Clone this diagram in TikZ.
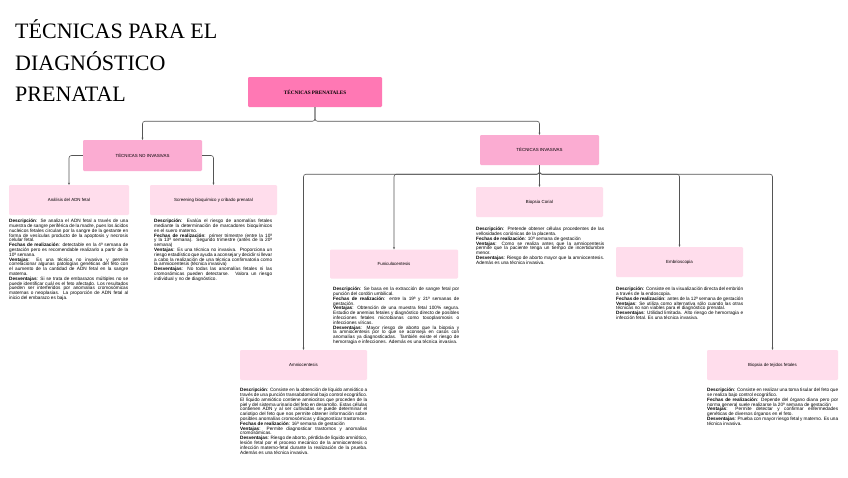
\documentclass[tikz,border=0pt]{standalone}
\usepackage{fontspec}
\setmainfont{Liberation Serif}
\setsansfont{Liberation Sans}
\usetikzlibrary{arrows.meta}
\definecolor{rosaFuerte}{HTML}{FF78B4}
\definecolor{rosaMedio}{HTML}{FBACD2}
\definecolor{rosaClaro}{HTML}{FFDDEC}
\definecolor{linea}{HTML}{555555}
\newcommand{\campo}[1]{\textbf{#1}:}
\newcommand{\singuion}{\hyphenpenalty=10000 \exhyphenpenalty=10000 \tolerance=9999 \emergencystretch=4pt\relax}
\begin{document}
\begin{tikzpicture}
    [x=1pt,y=-1pt,
    caja/.style={rectangle,rounded corners=1.2pt,inner sep=0pt,minimum height=30pt,
      font=\sffamily\fontsize{4.4}{5}\selectfont},
    texto/.style={anchor=north west,inner sep=0pt,align=justify,
      font=\sffamily\fontsize{4.7}{4.8}\selectfont,execute at begin node=\singuion},
    conector/.style={draw=linea,line width=0.6pt,rounded corners=2.5pt,-{Stealth[length=2.2pt,width=2pt]}}]
    \useasboundingbox[fill=white] (0,0) rectangle (848,477);
    %title
    \node[anchor=north west,inner sep=0pt,align=left,font=\fontsize{22}{31.5}\selectfont] (titulo) at (15,19.5)
    {TÉCNICAS PARA EL\\DIAGNÓSTICO\\PRENATAL};
    %boxes
    \node[caja,fill=rosaFuerte,minimum width=134pt,font=\bfseries\fontsize{5.2}{6}\selectfont] (prenat) at (315,92) {TÉCNICAS PRENATALES};
    \node[caja,fill=rosaMedio,minimum width=119pt,minimum height=31pt] (noinv) at (142.5,155.5) {TÉCNICAS NO INVASIVAS};
    \node[caja,fill=rosaMedio,minimum width=119pt] (inv) at (539.5,150) {TÉCNICAS INVASIVAS};
    \node[caja,fill=rosaClaro,minimum width=120pt] (adn) at (69,200) {Análisis del ADN fetal};
    \node[caja,fill=rosaClaro,minimum width=127pt] (screen) at (213.5,200) {Screening bioquímico y cribado prenatal};
    \node[caja,fill=rosaClaro,minimum width=128pt,minimum height=29pt] (funi) at (394,264) {Funiculocentesis};
    \node[caja,fill=rosaClaro,minimum width=127pt] (corial) at (539.5,202) {Biopsia Corial};
    \node[caja,fill=rosaClaro,minimum width=127pt] (embrio) at (679.5,262) {Embrioscopia};
    \node[caja,fill=rosaClaro,minimum width=127pt] (amnio) at (303.5,365) {Amniocentesis};
    \node[caja,fill=rosaClaro,minimum width=131pt] (tejidos) at (772.5,365) {Biopsia de tejidos fetales};
    %connectors
    \draw[conector] (prenat.south) -- ++(0,14) -| (noinv.north);
    \draw[conector] (prenat.south) -- ++(0,14) -| (inv.north);
    \draw[conector] (noinv.west) -| (adn.north);
    \draw[conector] (noinv.east) -| (screen.north);
    \draw[conector] (inv.south) -- ++(0,9) -| (amnio.north);
    \draw[conector] (inv.south) -- ++(0,9) -| (funi.north);
    \draw[conector] (inv.south) -- (corial.north);
    \draw[conector] (inv.south) -- ++(0,9) -| (embrio.north);
    \draw[conector] (inv.south) -- ++(0,9) -| (tejidos.north);
    %descriptions
    \node[texto,text width=119pt] (adntxt) at (9,219) {\campo{Descripción} Se analiza el ADN fetal a través de una muestra de sangre periférica de la madre, pues los ácidos nucleicos fetales circulan por la sangre de la gestante en forma de vesículas producto de la apoptosis y necrosis celular fetal.\par
    \campo{Fechas de realización} detectable en la 4ª semana de gestación pero es recomendable realizarlo a partir de la 10ª semana.\par
    \campo{Ventajas} Es una técnica no invasiva y permite correlacionar algunas patologías genéticas del feto con el aumento de la cantidad de ADN fetal en la sangre materna.\par
    \campo{Desventajas} Si se trata de embarazos múltiples no se puede identificar cuál es el feto afectado. Los resultados pueden ser interferidos por anomalías cromosómicas maternas o neoplasias. La proporción de ADN fetal al inicio del embarazo es baja.};
    \node[texto,text width=118pt] (screentxt) at (154,219) {\campo{Descripción} Evalúa el riesgo de anomalías fetales mediante la determinación de marcadores bioquímicos en el suero materno.\par
    \campo{Fechas de realización} primer trimestre (entre la 10ª y la 13ª semana). Segundo trimestre (antes de la 20ª semana)\par
    \campo{Ventajas} Es una técnica no invasiva. Proporciona un riesgo estadístico que ayuda a aconsejar y decidir si llevar a cabo la realización de una técnica confirmatoria como la amniocentesis (técnica invasiva)\par
    \campo{Desventajas} No todas las anomalías fetales ni las cromosómicas pueden detectarse. Valora un riesgo individual y no de diagnóstico.};
    \node[texto,text width=126pt] (funitxt) at (333,287) {\campo{Descripción} Se basa en la extracción de sangre fetal por punción del cordón umbilical.\par
    \campo{Fechas de realización} entre la 19ª y 21ª semanas de gestación.\par
    \campo{Ventajas} Obtención de una muestra fetal 100\% segura. Estudio de anemias fetales y diagnóstico directo de posibles infecciones fetales microbianas como toxoplasmosis o infecciones víricas.\par
    \campo{Desventajas} Mayor riesgo de aborto que la biopsia y la amniocentesis por lo que se aconseja en casos con anomalías ya diagnosticadas. También existe el riesgo de hemorragia e infecciones. Además es una técnica invasiva.};
    \node[texto,text width=127pt] (amniotxt) at (240,388) {\campo{Descripción} Consiste en la obtención de líquido amniótico a través de una punción transabdominal bajo control ecográfico. El líquido amniótico contiene amniocitos que proceden de la piel y del sistema urinario del feto en desarrollo. Estas células contienen ADN y al ser cultivadas se puede determinar el cariotipo del feto que nos permite obtener información sobre posibles anomalías cromosómicas y diagnosticar trastornos.\par
    \campo{Fechas de realización} 16ª semana de gestación\par
    \campo{Ventajas} Permite diagnosticar trastornos y anomalías cromosómicas.\par
    \campo{Desventajas} Riesgo de aborto, pérdida de líquido amniótico, lesión fetal por el proceso mecánico de la amniocentesis o infección materno-fetal durante la realización de la prueba. Además es una técnica invasiva.};
    \node[texto,text width=128pt] (corialtxt) at (476,227) {\campo{Descripción} Pretende obtener células procedentes de las vellosidades coriónicas de la placenta.\par
    \campo{Fechas de realización} 10ª semana de gestación\par
    \campo{Ventajas} Como se realiza antes que la amniocentesis permite que la paciente tenga un tiempo de incertidumbre menor.\par
    \campo{Desventajas} Riesgo de aborto mayor que la amniocentesis. Además es una técnica invasiva.};
    \node[texto,text width=127pt] (embriotxt) at (616,287) {\campo{Descripción} Consiste en la visualización directa del embrión a través de la endoscopia.\par
    \campo{Fechas de realización} antes de la 12ª semana de gestación\par
    \campo{Ventajas} Se utiliza como alternativa sólo cuando las otras técnicas no son viables para el diagnóstico prenatal.\par
    \campo{Desventajas} Utilidad limitada. Alto riesgo de hemorragia e infección fetal. Es una técnica invasiva.};
    \node[texto,text width=131pt] (tejidostxt) at (707,388) {\campo{Descripción} Consiste en realizar una toma tisular del feto que se realiza bajo control ecográfico.\par
    \campo{Fechas de realización} Depende del órgano diana pero por norma general suele realizarse la 20ª semana de gestación\par
    \campo{Ventajas} Permite detectar y confirmar enfermedades genéticas de diversos órganos en el feto.\par
    \campo{Desventajas} Prueba con mayor riesgo fetal y materno. Es una técnica invasiva.};
\end{tikzpicture}
\end{document}
